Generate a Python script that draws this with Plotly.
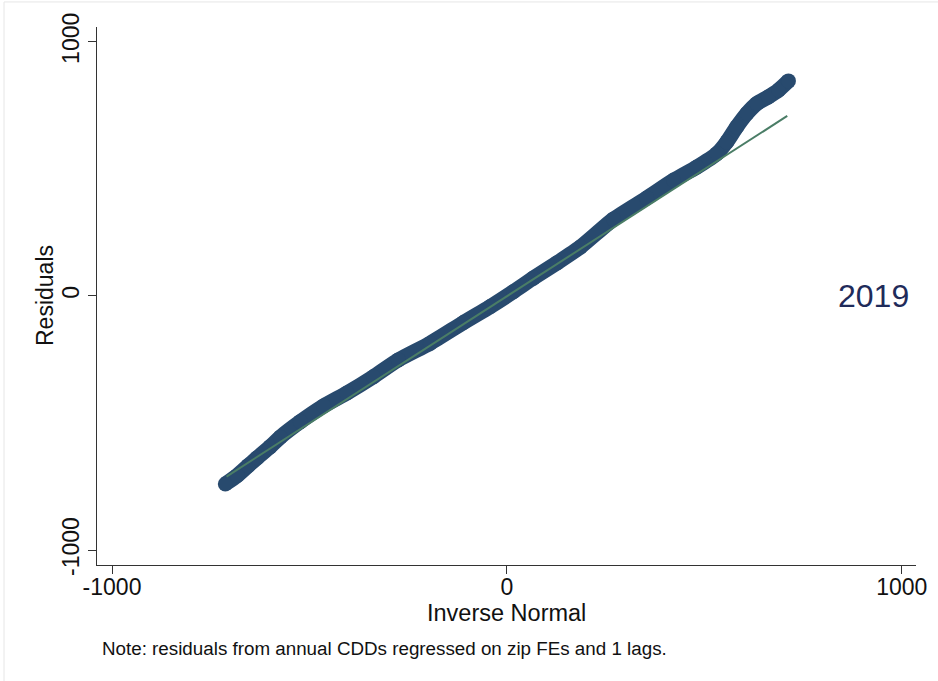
import plotly.graph_objects as go

# Q-Q plot points (inverse normal vs residuals)
qq_x = [-713, -683, -655, -633, -600, -574, -523, -464, -405, -338, -275, -194,
        -110, -42, 17, 67, 127, 186, 270, 354, 422, 481, 532, 557, 582, 608,
        633, 662, 688, 713]
qq_y = [-740, -707, -668, -638, -594, -556, -495, -433, -382, -318, -252, -186,
        -105, -42, 17, 70, 130, 192, 302, 385, 455, 507, 560, 606, 665, 718,
        757, 783, 810, 846]

# reference line end points
ref_x = [-710, 710]
ref_y = [-711, 708]

x_ticks = [-1000, 0, 1000]
y_ticks = [-1000, 0, 1000]
year_label = "2019"

band_color = "#284a6e"
ref_color = "#4a7d66"
axis_color = "#333333"
font_family = "Liberation Sans, Arial, Helvetica, sans-serif"

fig = go.Figure()
fig.add_trace(go.Scatter(
    x=qq_x, y=qq_y, mode="lines+markers",
    line=dict(color=band_color, width=15, shape="spline", smoothing=0.6),
    marker=dict(color=band_color, size=15),
    hoverinfo="skip", showlegend=False,
))
fig.add_trace(go.Scatter(
    x=ref_x, y=ref_y, mode="lines",
    line=dict(color=ref_color, width=2),
    hoverinfo="skip", showlegend=False,
))

axis_common = dict(
    showgrid=False, zeroline=False, showline=True, linecolor=axis_color,
    linewidth=1.3, ticks="outside", ticklen=8, tickwidth=1.2, tickcolor=axis_color,
    tickfont=dict(family=font_family, size=23, color="#111111"),
    automargin=False,
)

fig.update_xaxes(range=[-1038, 1036], tickvals=x_ticks,
                 ticktext=[str(v) for v in x_ticks], ticklabelstandoff=-7,
                 **axis_common)
fig.update_yaxes(range=[-1059, 1058], tickvals=y_ticks,
                 ticktext=[str(v) for v in y_ticks], tickangle=-90, **axis_common)

fig.add_annotation(x=928, y=0, xref="x", yref="y", text=year_label,
                   xanchor="center", yanchor="middle",
                   showarrow=False, font=dict(family=font_family, size=32, color="#1f2b5a"))
fig.add_annotation(x=0.5, y=0.0, xref="paper", yref="paper", yshift=-48,
                   xanchor="center", yanchor="middle",
                   text="Inverse Normal", showarrow=False,
                   font=dict(family=font_family, size=23.5, color="#111111"))
fig.add_annotation(x=0.0, y=0.5, xref="paper", yref="paper", xshift=-52,
                   xanchor="center", yanchor="middle",
                   text="Residuals", textangle=-90, showarrow=False,
                   font=dict(family=font_family, size=23, color="#111111"))
fig.add_annotation(x=0.0, y=0.0, xref="paper", yref="paper",
                   xanchor="left", yanchor="middle",
                   xshift=3, yshift=-83,
                   text="Note: residuals from annual CDDs regressed on zip FEs and 1 lags.",
                   showarrow=False,
                   font=dict(family=font_family, size=18.8, color="#111111"))

# faint outer graph-region frame (only top and left edges fall inside the page)
fig.add_shape(type="rect", xref="paper", yref="paper",
              x0=(4 - 97) / 819, x1=(960 - 97) / 819,
              y0=(565 - 700) / 537, y1=(565 - 3) / 537,
              line=dict(color="#e6e6e6", width=1), layer="below")

fig.update_layout(
    width=938, height=681,
    margin=dict(l=97, r=22, t=27, b=116),
    paper_bgcolor="white", plot_bgcolor="white",
    font=dict(family=font_family),
)

fig.write_html("out.html", config={"displayModeBar": False},
               post_script="document.body.style.margin='0';document.body.style.overflow='hidden';")
